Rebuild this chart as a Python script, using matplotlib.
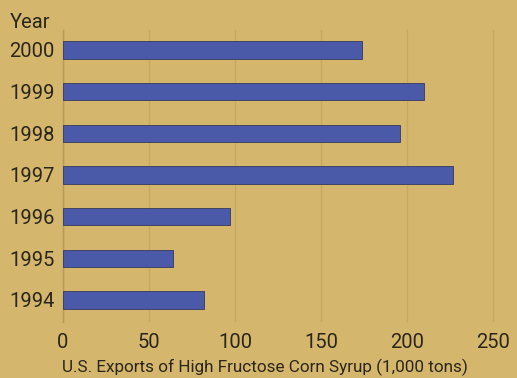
import matplotlib.pyplot as plt

years = ['1994', '1995', '1996', '1997', '1998', '1999', '2000']
exports = [82, 64, 97, 227, 196, 210, 174]
xticks = [0, 50, 100, 150, 200, 250]

bg = '#d5b66d'
bar_col = '#4a59a8'
txt_col = '#2b2619'

plt.rcParams['font.family'] = ['Roboto', 'DejaVu Sans']

fig = plt.figure(figsize=(5.17, 3.78), dpi=100, facecolor=bg)
ax = fig.add_axes([63/517, 1 - 322/378, 1 - 63/517, (322 - 30)/378])
ax.set_facecolor(bg)

ypos = list(range(len(years)))
ax.barh(ypos, exports, height=0.42, color=bar_col, edgecolor='#34395e', linewidth=0.6, zorder=3)

ax.set_xlim(0, 264)
ax.set_ylim(-0.53, 6.48)
ax.set_xticks(xticks)
ax.set_xticklabels([str(t) for t in xticks])
ax.set_yticks(ypos)
ax.set_yticklabels(years)
ax.tick_params(axis='both', length=0, labelsize=14.5, colors=txt_col)
ax.tick_params(axis='y', pad=6)
ax.tick_params(axis='x', pad=8)

ax.grid(axis='x', color='#c8a961', linewidth=1, zorder=0)
for s in ['top', 'right', 'bottom']:
    ax.spines[s].set_visible(False)
ax.spines['left'].set_color('#b89a55')
ax.spines['left'].set_linewidth(1)

fig.text(265/517, 1 - 367/378, 'U.S. Exports of High Fructose Corn Syrup (1,000 tons)',
         fontsize=12.3, color=txt_col, ha='center', va='center')
fig.text(10/517, 1 - 22/378, 'Year', fontsize=14.5, color=txt_col, va='center', ha='left')

fig.savefig('out.png', dpi=100, facecolor=bg)
